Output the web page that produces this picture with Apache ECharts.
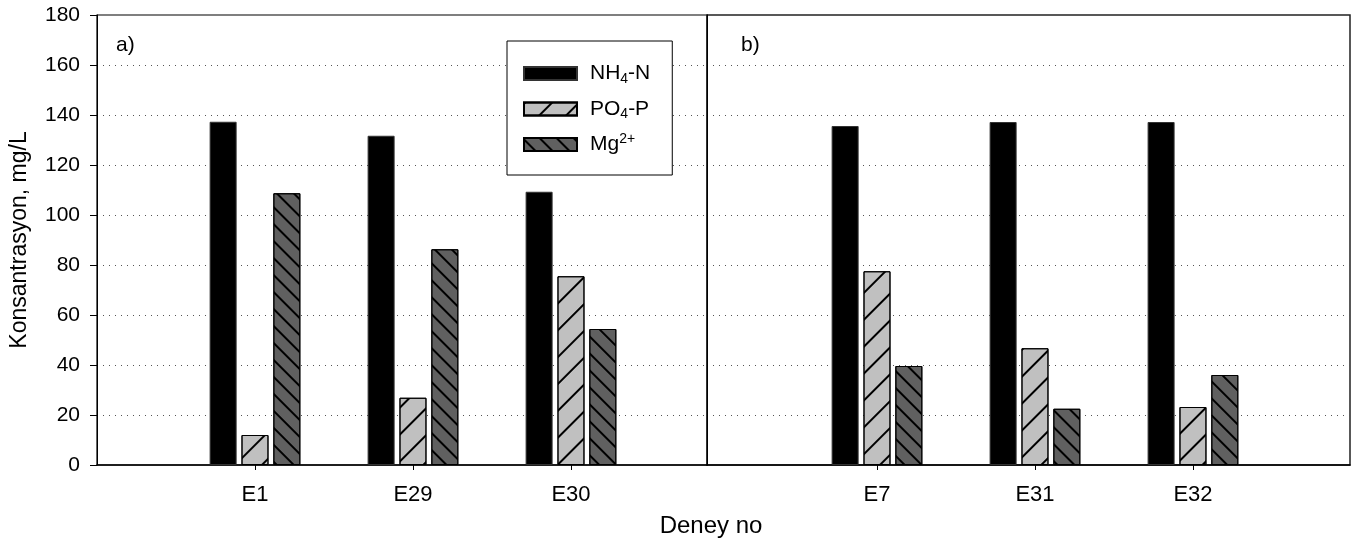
<!DOCTYPE html>
<html>
<head>
<meta charset="utf-8">
<script src="https://cdn.jsdelivr.net/npm/echarts@6/dist/echarts.min.js"></script>
<style>
  html, body { margin: 0; padding: 0; background: #fff; }
  #chart { width: 1368px; height: 543px; }
</style>
</head>
<body>
<div id="chart"></div>
<script>
// Experiment groups shown in the two panels
const categoriesA = ['E1', 'E29', 'E30'];
const categoriesB = ['E7', 'E31', 'E32'];

// Concentrations, mg/L
const nh4A = [137.3, 131.7, 109.3];
const po4A = [12.0, 26.9, 75.5];
const mgA  = [108.7, 86.3, 54.4];

const nh4B = [135.6, 137.2, 137.2];
const po4B = [77.5, 46.7, 23.2];
const mgB  = [39.6, 22.5, 36.0];

const yTicks = [0, 20, 40, 60, 80, 100, 120, 140, 160, 180];

const FONT = 'Liberation Sans, Arial, Helvetica, sans-serif';

const positions = [1, 2, 3];
const toPairs = vals => vals.map((v, i) => [positions[i], v]);

const styles = {
  'NH4-N': { color: '#000000', borderColor: '#333333', borderWidth: 1 },
  'PO4-P': {
    color: '#c0c0c0', borderColor: '#000000', borderWidth: 1,
    decal: { symbol: 'rect', symbolSize: 1, color: '#000', dashArrayX: [1, 0], dashArrayY: [1.2, 16.5], rotation: -Math.PI / 4 }
  },
  'Mg2+': {
    color: '#606060', borderColor: '#000000', borderWidth: 1,
    decal: { symbol: 'rect', symbolSize: 1, color: '#000', dashArrayX: [1, 0], dashArrayY: [1.2, 10], rotation: Math.PI / 4 }
  }
};

function bars(name, vals, idx) {
  return {
    type: 'bar', name: name,
    xAxisIndex: idx, yAxisIndex: idx,
    data: toPairs(vals),
    barWidth: 27, barGap: '18%',
    itemStyle: styles[name],
    emphasis: { disabled: true }
  };
}

function xAxisFor(gridIndex, cats, min, max) {
  return {
    type: 'value', gridIndex: gridIndex, min: min, max: max,
    splitLine: { show: false },
    axisLine: { show: true, onZero: false, lineStyle: { color: '#000', width: 1.5 } },
    axisTick: { show: true, customValues: positions, length: 5, lineStyle: { color: '#000' } },
    axisLabel: {
      customValues: positions, margin: 19, color: '#000', fontSize: 22, fontFamily: FONT,
      formatter: v => cats[Math.round(v) - 1] || ''
    }
  };
}

function yAxisFor(gridIndex, showLabels) {
  return {
    type: 'value', gridIndex: gridIndex, min: 0, max: 180, interval: 20,
    name: showLabels ? 'Konsantrasyon, mg/L' : '',
    nameLocation: 'middle', nameGap: 66,
    nameTextStyle: { color: '#000', fontSize: 23, fontFamily: FONT },
    axisLine: { show: true, onZero: false, lineStyle: { color: '#000', width: 1 } },
    axisTick: { show: showLabels, length: 7, lineStyle: { color: '#000' } },
    axisLabel: {
      show: showLabels, margin: 17, color: '#000', fontSize: 21, fontFamily: FONT,
      formatter: v => (yTicks.indexOf(v) >= 0 ? String(v) : '')
    },
    splitLine: { show: true, showMinLine: false, showMaxLine: false, lineStyle: { color: '#555', type: [1, 5], width: 1 } }
  };
}

const chart = echarts.init(document.getElementById('chart'), null, { renderer: 'canvas' });

chart.setOption({
  animation: false,
  backgroundColor: '#fff',
  textStyle: { fontFamily: FONT },
  grid: [
    { left: 97, top: 15, width: 610, height: 450, show: true, borderColor: '#000', borderWidth: 1.2, backgroundColor: 'transparent' },
    { left: 707, top: 15, width: 643, height: 450, show: true, borderColor: '#222', borderWidth: 1.5, backgroundColor: 'transparent' }
  ],
  xAxis: [
    xAxisFor(0, categoriesA, 0, 3.861),
    xAxisFor(1, categoriesB, -0.076, 3.994)
  ],
  yAxis: [yAxisFor(0, true), yAxisFor(1, false)],
  legend: {
    data: ['NH4-N', 'PO4-P', 'Mg2+'],
    orient: 'vertical',
    left: 507, top: 41,
    padding: [20, 22, 18, 16],
    icon: 'rect',
    itemWidth: 53, itemHeight: 13, itemGap: 10.5,
    backgroundColor: '#fff', borderColor: '#000', borderWidth: 1,
    selectedMode: false,
    formatter: function (name) {
      if (name === 'NH4-N') return '{n|NH}{sub|4}{n|-N}';
      if (name === 'PO4-P') return '{n|PO}{sub|4}{n|-P}';
      return '{n|Mg}{sup|2+}';
    },
    textStyle: {
      color: '#000', fontFamily: FONT, fontSize: 21, padding: [0, 0, 0, 8],
      rich: {
        n: { fontSize: 21, fontFamily: FONT, color: '#000', lineHeight: 24 },
        sub: { fontSize: 14, fontFamily: FONT, color: '#000', lineHeight: 24, padding: [11, 0, 0, 0] },
        sup: { fontSize: 14, fontFamily: FONT, color: '#000', lineHeight: 24, padding: [0, 0, 11, 0] }
      }
    }
  },
  graphic: [
    { type: 'text', left: 116, top: 35, style: { text: 'a)', font: '21px ' + FONT, fill: '#000' } },
    { type: 'text', left: 741, top: 35, style: { text: 'b)', font: '21px ' + FONT, fill: '#000' } },
    { type: 'text', x: 711, y: 526, style: { text: 'Deney no', font: '24px ' + FONT, fill: '#000', align: 'center', verticalAlign: 'middle' } }
  ],
  series: [
    bars('NH4-N', nh4A, 0), bars('PO4-P', po4A, 0), bars('Mg2+', mgA, 0),
    bars('NH4-N', nh4B, 1), bars('PO4-P', po4B, 1), bars('Mg2+', mgB, 1)
  ]
});
</script>
</body>
</html>
